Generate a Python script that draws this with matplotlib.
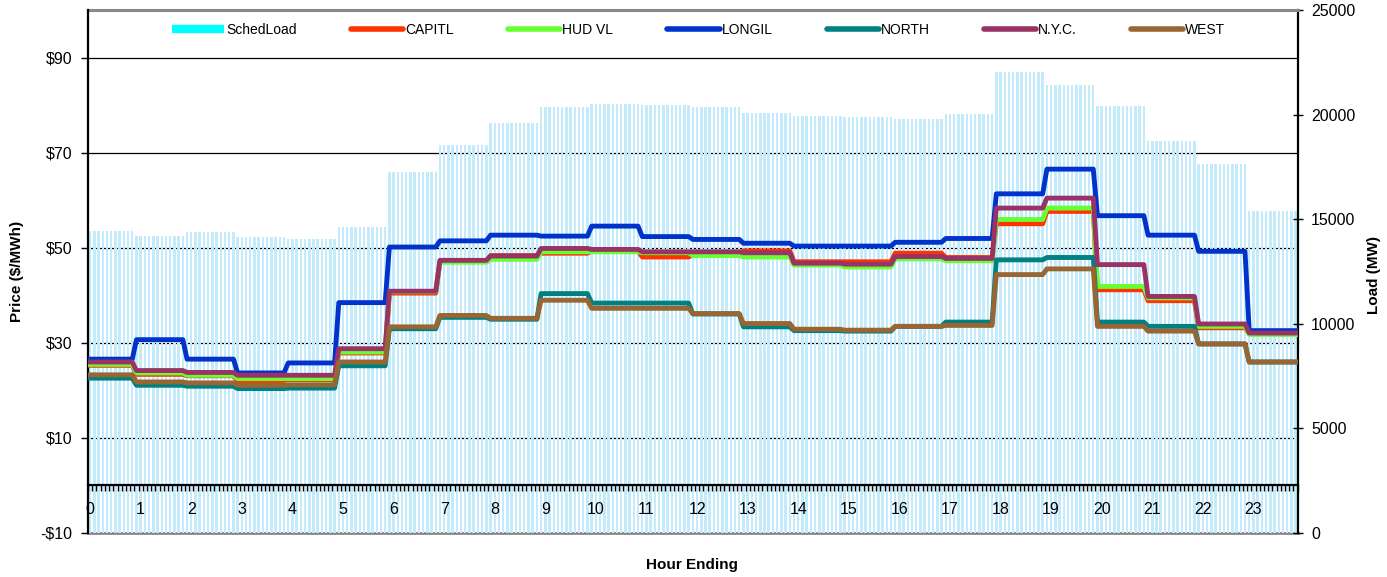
import numpy as np
import matplotlib
matplotlib.use('Agg')
import matplotlib.pyplot as plt
from matplotlib.lines import Line2D
import matplotlib.transforms as mtransforms
from matplotlib.ticker import FuncFormatter

plt.rcParams['font.family'] = ['Liberation Sans', 'DejaVu Sans']

# ---------------- data (hourly values, held for each 5-minute interval) -------------
hours = list(range(24))
hour_labels = [str(h) for h in hours]

sched_load = [14440, 14200, 14370, 14150, 14050, 14610, 17270, 18550, 19600, 20350,
              20490, 20460, 20360, 20080, 19930, 19900, 19800, 20030, 22020, 21420,
              20410, 18740, 17640, 15390]

capitl = [25.3, 23.4, 23.1, 22.1, 22.3, 27.9, 40.5, 47.2, 48.4, 48.9, 49.4, 48.1,
          48.6, 49.4, 47.1, 47.1, 48.9, 48.0, 55.1, 57.7, 41.2, 38.9, 33.2, 32.0]
hudvl = [25.5, 23.7, 23.2, 22.5, 22.5, 28.1, 40.8, 47.0, 47.6, 49.2, 49.2, 49.0,
         48.4, 48.1, 46.4, 46.0, 47.7, 47.3, 56.0, 58.4, 41.9, 39.5, 33.5, 31.8]
longil = [26.6, 30.7, 26.6, 23.7, 25.8, 38.5, 50.2, 51.5, 52.7, 52.5, 54.6, 52.4,
          51.8, 51.0, 50.4, 50.4, 51.2, 52.0, 61.4, 66.6, 56.8, 52.7, 49.3, 32.6]
north = [22.6, 21.1, 20.9, 20.4, 20.5, 25.2, 33.0, 35.4, 35.0, 40.4, 38.4, 38.4,
         36.1, 33.4, 32.6, 32.5, 33.5, 34.4, 47.5, 48.0, 34.4, 33.5, 29.8, 26.0]
nyc = [26.0, 24.2, 23.8, 23.2, 23.2, 28.8, 40.9, 47.4, 48.3, 49.9, 49.7, 49.2,
       49.2, 49.0, 46.8, 46.6, 48.2, 47.8, 58.4, 60.5, 46.5, 39.8, 34.0, 32.1]
west = [23.3, 21.8, 21.6, 21.1, 21.2, 26.0, 33.4, 35.8, 35.2, 39.0, 37.3, 37.3,
        36.2, 34.1, 32.9, 32.7, 33.5, 33.7, 44.4, 45.6, 33.5, 32.5, 29.8, 26.0]

series_names = ['CAPITL', 'HUD VL', 'LONGIL', 'NORTH', 'N.Y.C.', 'WEST']
series_values = [capitl, hudvl, longil, north, nyc, west]
series_colors = ['#FF3300', '#66FF33', '#0033CC', '#008080', '#993366', '#996633']

price_ticks = [-10, 10, 30, 50, 70, 90]
load_ticks = [0, 5000, 10000, 15000, 20000, 25000]

# 5-minute intervals per hour (first hour has 11 intervals in the source data)
points_per_hour = [11] + [12] * 23


def expand(v):
    return np.repeat(np.asarray(v, dtype=float), points_per_hour)


n = int(sum(points_per_hour))
idx = np.arange(n)
hour_pos = np.cumsum([0] + points_per_hour[:-1]) + np.array([0] + [1] * 23)

# ---------------- figure ----------------
W, H = 1387, 577
fig = plt.figure(figsize=(W / 100, H / 100), dpi=100)
ax = fig.add_axes([88 / W, 1 - 533 / H, (1297.7 - 88) / W, (533 - 10) / H])
axl = ax.twinx()
ax.set_zorder(axl.get_zorder() + 1)
ax.patch.set_visible(False)

ax.set_xlim(-0.5, n - 0.5)
ax.set_ylim(-10, 100.1)
axl.set_ylim(0, 25000)

# gridlines drawn behind the load bars
trans = mtransforms.blended_transform_factory(axl.transAxes, ax.transData)
for p in price_ticks[1:]:
    axl.add_line(Line2D([0, 1], [p, p], transform=trans, color='black', lw=0.9, zorder=0.5))

# load bars
axl.bar(idx, expand(sched_load), width=0.58, color='#C4EBFB', linewidth=0, zorder=1)

# price lines
for name, vals, col in zip(series_names, series_values, series_colors):
    ax.plot(idx, expand(vals), color=col, lw=3.5, zorder=3)

# spines
for s in ['top', 'right']:
    ax.spines[s].set_visible(False)
ax.spines['left'].set_color('black')
ax.spines['left'].set_linewidth(1.6)
ax.spines['bottom'].set_position(('data', 0))
ax.spines['bottom'].set_color('black')
ax.spines['bottom'].set_linewidth(1.6)

axl.spines['left'].set_visible(False)
axl.spines['top'].set_color('#888888')
axl.spines['top'].set_linewidth(2.2)
axl.spines['bottom'].set_color('#888888')
axl.spines['bottom'].set_linewidth(2.0)
axl.spines['bottom'].set_zorder(0.6)
axl.spines['right'].set_color('black')
axl.spines['right'].set_linewidth(1.6)

# x ticks
ax.set_xticks(hour_pos)
ax.set_xticklabels(hour_labels, fontsize=11.5)
ax.set_xticks(np.arange(n + 1) - 0.5, minor=True)
ax.tick_params(axis='x', which='major', length=0, pad=12)
ax.tick_params(axis='x', which='minor', length=4, width=1, direction='out', color='black')

# left y ticks
ax.set_yticks(price_ticks)
ax.yaxis.set_major_formatter(FuncFormatter(lambda v, p: ('-$%d' % abs(v)) if v < 0 else ('$%d' % v)))
ax.tick_params(axis='y', which='major', length=5, width=1, direction='out', labelsize=11.5, pad=6)

# right y ticks
axl.set_yticks(load_ticks)
axl.set_yticklabels([str(t) for t in load_ticks])
axl.tick_params(axis='y', which='major', length=7, width=1, direction='inout', labelsize=11.5, pad=6)

# labels
ax.set_ylabel('Price ($/MWh)', fontsize=11, fontweight='bold')
ax.yaxis.set_label_coords(-0.053, 0.5)
axl.set_ylabel('Load (MW)', fontsize=11, fontweight='bold', rotation=90)
axl.yaxis.set_label_coords(1.057, 0.493)
ax.set_xlabel('Hour Ending', fontsize=11, fontweight='bold')
ax.xaxis.set_label_coords(0.499, -0.048)

# legend
handles = [Line2D([], [], color='#00FFFF', lw=6, solid_capstyle='butt')]
handles += [Line2D([], [], color=c, lw=4, solid_capstyle='round') for c in series_colors]
labels = ['SchedLoad'] + series_names
leg = ax.legend(handles, labels, loc='center', bbox_to_anchor=(0.505, 0.962), ncol=7,
                frameon=False, fontsize=10, handlelength=3.75, handletextpad=0.15,
                columnspacing=3.9, borderaxespad=0)

fig.savefig('out.png', dpi=100)
